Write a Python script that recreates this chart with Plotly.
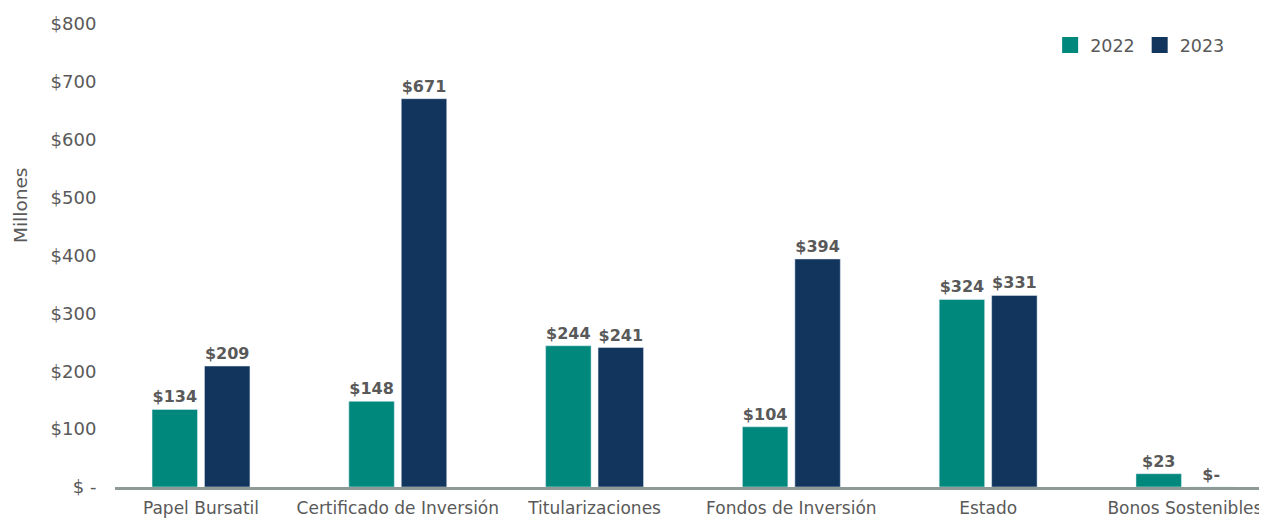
import plotly.graph_objects as go

categories = ["Papel Bursatil", "Certificado de Inversión", "Titularizaciones",
              "Fondos de Inversión", "Estado", "Bonos Sostenibles"]
values_2022 = [134, 148, 244, 104, 324, 23]
values_2023 = [209, 671, 241, 394, 331, 0]
y_ticks = [0, 100, 200, 300, 400, 500, 600, 700, 800]
y_tick_labels = ["$ -", "$100", "$200", "$300", "$400", "$500", "$600", "$700", "$800"]

FONT = "DejaVu Sans"
GRAY = "#595959"
TEAL = "#00887D"
NAVY = "#12355E"


def fmt(v):
    return "$-" if v == 0 else f"${v:,.0f}"


fig = go.Figure()
for name, vals, color in [("2022", values_2022, TEAL), ("2023", values_2023, NAVY)]:
    fig.add_trace(go.Bar(
        name=name, x=categories, y=vals, marker_color=color,
        text=[fmt(v) for v in vals], textposition="outside",
        textfont=dict(family=FONT, size=16, color=GRAY, weight="bold"),
        cliponaxis=False, showlegend=False,
    ))
# legend entries with larger square swatches
for name, color in [("2022", TEAL), ("2023", NAVY)]:
    fig.add_trace(go.Scatter(
        name=name, x=[None], y=[None], mode="markers",
        marker=dict(symbol="square", size=17, color=color), showlegend=True,
    ))

fig.update_layout(
    width=1259, height=520,
    margin=dict(l=107, r=0, t=16, b=41),
    paper_bgcolor="white", plot_bgcolor="white",
    barmode="group", bargap=0.467, bargroupgap=0.133,
    font=dict(family=FONT, color=GRAY, size=17),
    showlegend=True,
    legend=dict(orientation="h", x=0.968, xanchor="right", y=0.993, yanchor="top",
                font=dict(family=FONT, size=17.5, color=GRAY), traceorder="normal",
                itemwidth=30),
)
fig.update_xaxes(
    range=[-0.437, 5.417], showgrid=False, showline=True, linecolor="#8E9A95", linewidth=2.5,
    ticks="outside", ticklen=4, tickcolor="rgba(0,0,0,0)",
    tickfont=dict(family=FONT, size=17, color=GRAY),
)
fig.update_yaxes(
    range=[0, 800], tickvals=y_ticks, ticktext=y_tick_labels, showgrid=False,
    zeroline=False, showline=False, ticks="outside", ticklen=14, tickcolor="rgba(0,0,0,0)",
    tickfont=dict(family=FONT, size=18, color=GRAY),
)
fig.add_annotation(
    text="Millones", textangle=-90, xref="paper", yref="paper",
    x=-0.0825, y=0.609, xanchor="center", yanchor="middle", showarrow=False,
    font=dict(family=FONT, size=18.5, color=GRAY),
)
fig.write_html("out.html")
